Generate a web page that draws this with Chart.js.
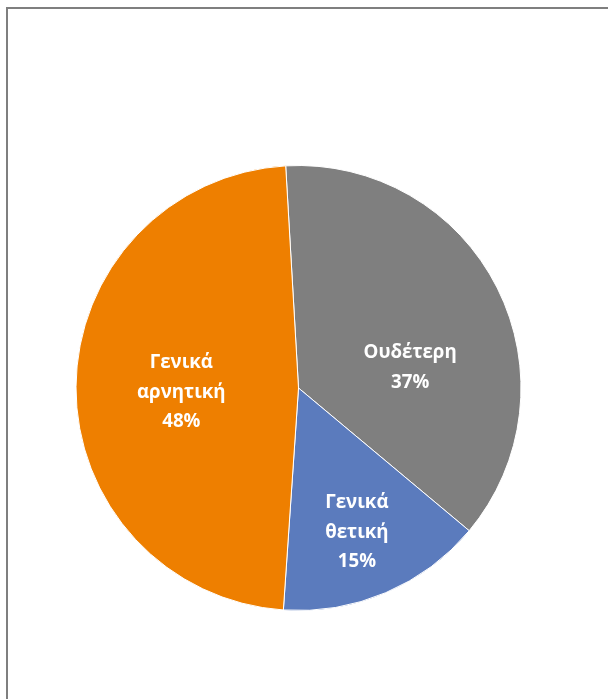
<!DOCTYPE html>
<html>
<head>
<meta charset="utf-8">
<script src="https://cdn.jsdelivr.net/npm/chart.js@4/dist/chart.umd.min.js"></script>
<style>
  html, body { margin: 0; padding: 0; background: #fff; overflow: hidden; }
  #frame { position: absolute; left: 6px; top: 7px; width: 700px; height: 800px;
           border-left: 2px solid #7f7f7f; border-top: 2px solid #7f7f7f; }
  #wrap { position: absolute; left: 0; top: 0; width: 608px; height: 699px; }
</style>
</head>
<body>
<div id="frame"></div>
<div id="wrap"><canvas id="c"></canvas></div>
<script>
const categories = [["Ουδέτερη"], ["Γενικά", "θετική"], ["Γενικά", "αρνητική"]];
const values = [37, 15, 48];
const colors = ["#7f7f7f", "#5b7bbd", "#ee7f00"];
// label placement inside each slice (fraction of slice angle, fraction of radius)
const labelAngleFrac = [0.623, 0.52, 0.486];
const labelRadiusFrac = [0.51, 0.70, 0.527];

const labelPlugin = {
  id: 'sliceLabels',
  afterDatasetsDraw(chart) {
    const ctx = chart.ctx;
    const meta = chart.getDatasetMeta(0);
    const total = values.reduce((a, b) => a + b, 0);
    ctx.save();
    ctx.fillStyle = '#ffffff';
    ctx.font = 'bold 18.7px "Open Sans", "Noto Sans", sans-serif';
    ctx.textAlign = 'center';
    ctx.textBaseline = 'middle';
    const lh = 29.5;
    meta.data.forEach((arc, i) => {
      const p = arc.getProps(['x', 'y', 'startAngle', 'endAngle', 'outerRadius'], true);
      const a = p.startAngle + (p.endAngle - p.startAngle) * labelAngleFrac[i];
      const r = p.outerRadius * labelRadiusFrac[i];
      const cx = p.x + Math.cos(a) * r;
      const cy = p.y + Math.sin(a) * r;
      const lines = categories[i].concat([Math.round(values[i] / total * 100) + '%']);
      const y0 = cy - (lines.length - 1) * lh / 2;
      lines.forEach((t, k) => ctx.fillText(t, cx, y0 + k * lh));
    });
    ctx.restore();
  }
};

new Chart(document.getElementById('c'), {
  type: 'pie',
  data: {
    labels: categories.map(l => l.join(' ')),
    datasets: [{
      data: values,
      backgroundColor: colors,
      borderColor: '#ffffff',
      borderWidth: 1
    }]
  },
  options: {
    responsive: true,
    maintainAspectRatio: false,
    animation: false,
    rotation: -3.3,
    layout: { padding: { left: 75, right: 86, top: 165, bottom: 88 } },
    plugins: { legend: { display: false }, tooltip: { enabled: false } }
  },
  plugins: [labelPlugin]
});
</script>
</body>
</html>
